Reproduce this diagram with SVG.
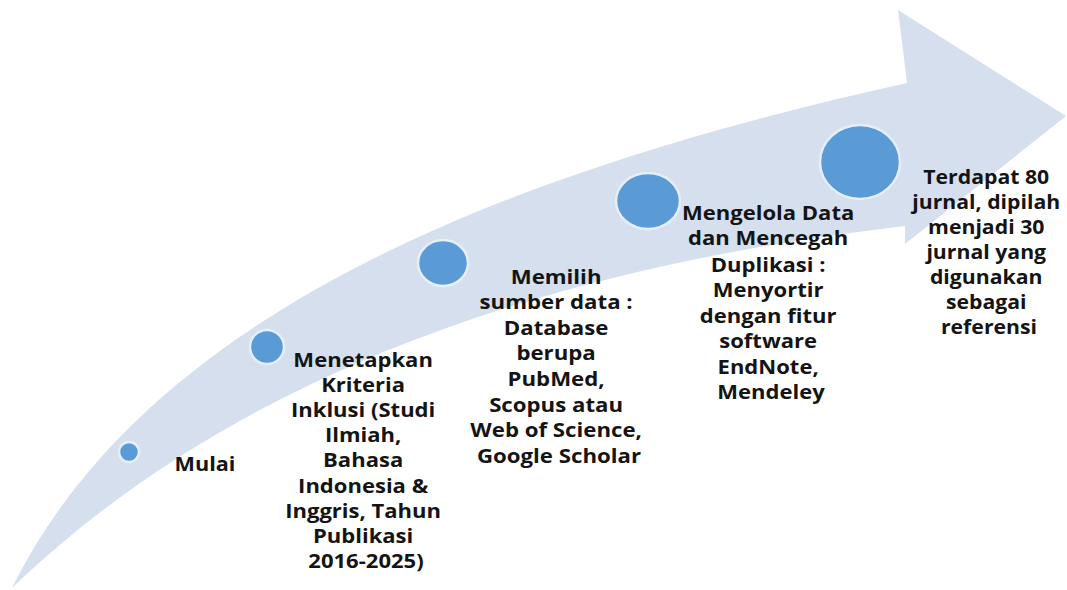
<svg xmlns="http://www.w3.org/2000/svg" width="1067" height="590" viewBox="0 0 1067 590">
  <style>
    .step { fill: #5b9bd5; stroke: #e6eef8; stroke-width: 2.5; }
    .lbl { font-family: "Open Sans", "Liberation Sans", sans-serif; font-weight: 700; font-size: 19.5px; fill: #141414; text-anchor: middle; }
  </style>
  <rect width="1067" height="590" fill="#ffffff"/>

  <!-- curved process arrow -->
  <g id="arrow">
    <path d="M12,588 C130,350 420,190 907,83 L898,10 L1066,116 L905,244 L905,226 C600,262 260,350 12,588 Z" fill="#d5dfee"/>
  </g>

  <g id="step-mulai">
    <circle class="step" cx="129" cy="452" r="10"/>
    <text class="lbl" x="205" y="471" transform="translate(205,0) scale(1.11,1) translate(-205,0)">Mulai</text>
  </g>

  <g id="step-kriteria">
    <circle class="step" cx="267" cy="347" r="17"/>
    <text class="lbl" transform="translate(366,0) scale(1.13,1) translate(-366,0)">
      <tspan x="366" y="367">Menetapkan</tspan>
      <tspan x="366" y="392">Kriteria</tspan>
      <tspan x="366" y="417">Inklusi (Studi</tspan>
      <tspan x="366" y="442">Ilmiah,</tspan>
      <tspan x="366" y="467">Bahasa</tspan>
      <tspan x="366" y="493">Indonesia &amp;</tspan>
      <tspan x="366" y="518">Inggris, Tahun</tspan>
      <tspan x="366" y="543">Publikasi</tspan>
      <tspan x="366" y="568">2016-2025)</tspan>
    </text>
  </g>

  <g id="step-sumber">
    <ellipse class="step" cx="443" cy="263" rx="25" ry="23"/>
    <text class="lbl" transform="translate(559,0) scale(1.14,1) translate(-559,0)">
      <tspan x="559" y="284">Memilih</tspan>
      <tspan x="559" y="309">sumber data :</tspan>
      <tspan x="559" y="335">Database</tspan>
      <tspan x="559" y="360">berupa</tspan>
      <tspan x="559" y="386">PubMed,</tspan>
      <tspan x="559" y="412">Scopus atau</tspan>
      <tspan x="559" y="437">Web of Science,</tspan>
      <tspan x="559" y="463">Google Scholar</tspan>
    </text>
  </g>

  <g id="step-kelola">
    <ellipse class="step" cx="648" cy="201" rx="32" ry="28"/>
    <text class="lbl" transform="translate(771,0) scale(1.13,1) translate(-771,0)">
      <tspan x="771" y="220">Mengelola Data</tspan>
      <tspan x="771" y="245">dan Mencegah</tspan>
      <tspan x="771" y="272">Duplikasi :</tspan>
      <tspan x="771" y="297">Menyortir</tspan>
      <tspan x="771" y="323">dengan fitur</tspan>
      <tspan x="771" y="348">software</tspan>
      <tspan x="771" y="374">EndNote,</tspan>
      <tspan x="771" y="399">Mendeley</tspan>
    </text>
  </g>

  <g id="step-hasil">
    <ellipse class="step" cx="860" cy="162" rx="40" ry="37"/>
    <text class="lbl" transform="translate(989,0) scale(1.09,1) translate(-989,0)">
      <tspan x="989" y="184">Terdapat 80</tspan>
      <tspan x="989" y="209">jurnal, dipilah</tspan>
      <tspan x="989" y="234">menjadi 30</tspan>
      <tspan x="989" y="259">jurnal yang</tspan>
      <tspan x="989" y="284">digunakan</tspan>
      <tspan x="989" y="309">sebagai</tspan>
      <tspan x="989" y="334">referensi</tspan>
    </text>
  </g>
</svg>
